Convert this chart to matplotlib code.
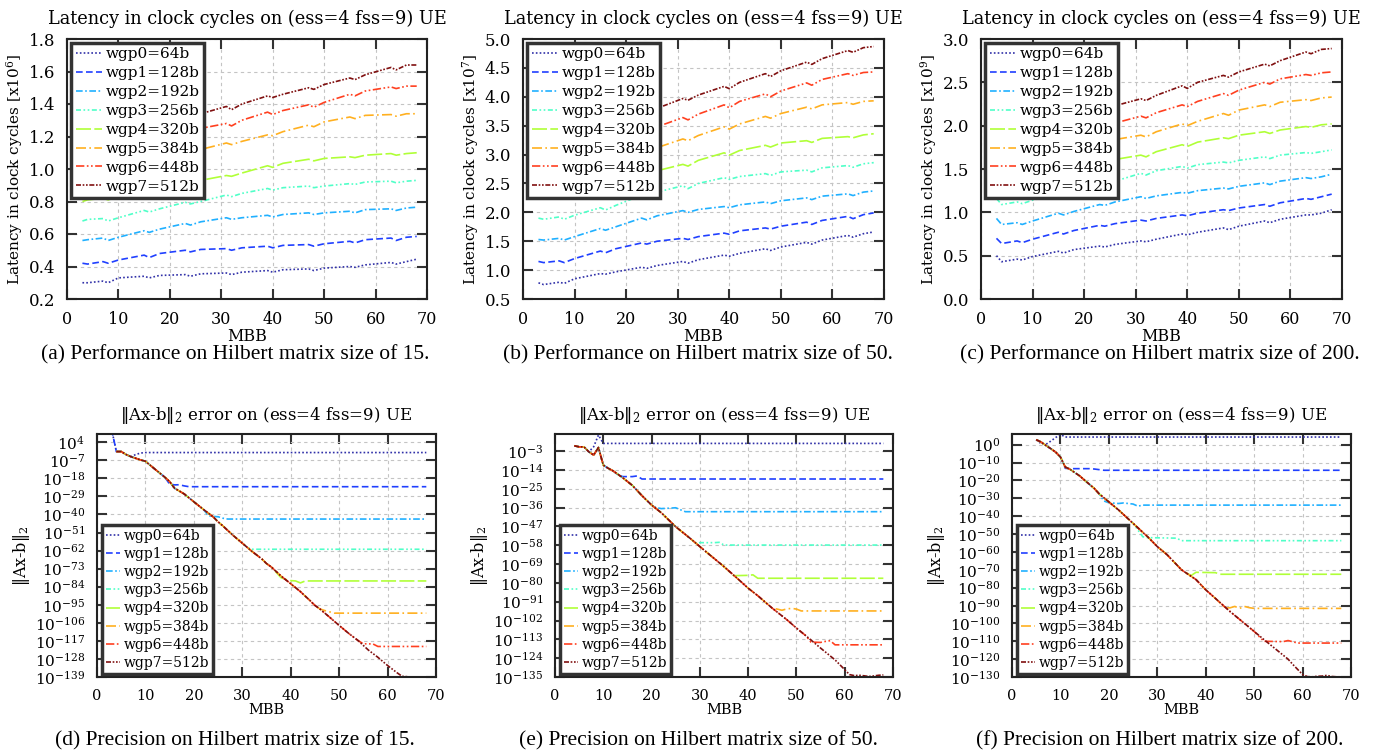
import matplotlib
matplotlib.use('Agg')
import matplotlib.pyplot as plt
import numpy as np
from matplotlib.ticker import FixedLocator, FuncFormatter

plt.rcParams['font.family'] = ['DejaVu Serif']
plt.rcParams['mathtext.fontset'] = 'dejavuserif'

W, H = 1374, 754

labels = ['wgp0=64b', 'wgp1=128b', 'wgp2=192b', 'wgp3=256b',
          'wgp4=320b', 'wgp5=384b', 'wgp6=448b', 'wgp7=512b']
colors = ['#3030a8', '#2040ff', '#20b0ff', '#50ffc8',
          '#b0ff38', '#ffb020', '#ff4020', '#801010']
styles = [(0, (1, 1.3)), (0, (4, 2)), (0, (4, 1.5, 1, 1.5)), (0, (3, 1.5, 1, 1.5, 1, 1.5)),
          (0, (9, 2)), (0, (6, 2, 1, 2)), (0, (5, 1.5, 1, 1.5, 1, 1.5)), (0, (3, 1, 1, 1, 1, 1))]

# ---- latency data (MBB sample points) ----
lat_mbb = [3, 4, 7, 8, 10, 15, 16, 18, 23, 24, 26, 31, 32, 34, 39, 40, 42, 47, 48, 50,
           55, 56, 58, 63, 64, 66, 68]

lat15 = [  # x1e6
    [0.30, 0.30, 0.31, 0.30, 0.33, 0.34, 0.33, 0.345, 0.35, 0.34, 0.355, 0.36, 0.35, 0.365, 0.375, 0.365, 0.38, 0.385, 0.375, 0.39, 0.40, 0.395, 0.41, 0.425, 0.415, 0.43, 0.445],
    [0.42, 0.415, 0.43, 0.42, 0.44, 0.47, 0.455, 0.48, 0.50, 0.49, 0.505, 0.51, 0.50, 0.515, 0.525, 0.515, 0.53, 0.535, 0.525, 0.54, 0.555, 0.545, 0.565, 0.575, 0.56, 0.58, 0.585],
    [0.56, 0.565, 0.575, 0.56, 0.58, 0.62, 0.61, 0.63, 0.665, 0.655, 0.675, 0.70, 0.69, 0.70, 0.715, 0.705, 0.72, 0.73, 0.72, 0.73, 0.74, 0.73, 0.75, 0.755, 0.745, 0.76, 0.765],
    [0.68, 0.69, 0.695, 0.68, 0.70, 0.745, 0.735, 0.755, 0.795, 0.785, 0.80, 0.84, 0.83, 0.85, 0.88, 0.87, 0.885, 0.895, 0.885, 0.895, 0.91, 0.905, 0.92, 0.925, 0.915, 0.925, 0.93],
    [0.80, 0.81, 0.82, 0.81, 0.83, 0.87, 0.86, 0.88, 0.92, 0.91, 0.93, 0.96, 0.955, 0.975, 1.02, 1.01, 1.035, 1.06, 1.05, 1.065, 1.075, 1.07, 1.085, 1.095, 1.085, 1.095, 1.10],
    [0.96, 0.97, 0.99, 0.98, 1.00, 1.04, 1.03, 1.05, 1.10, 1.09, 1.12, 1.16, 1.15, 1.17, 1.21, 1.205, 1.23, 1.27, 1.26, 1.29, 1.32, 1.31, 1.33, 1.335, 1.325, 1.34, 1.34],
    [1.08, 1.09, 1.11, 1.10, 1.12, 1.17, 1.16, 1.18, 1.22, 1.21, 1.25, 1.28, 1.265, 1.30, 1.35, 1.335, 1.36, 1.395, 1.38, 1.41, 1.46, 1.45, 1.48, 1.505, 1.495, 1.51, 1.51],
    [1.18, 1.19, 1.21, 1.20, 1.22, 1.27, 1.26, 1.28, 1.33, 1.32, 1.34, 1.385, 1.365, 1.40, 1.45, 1.44, 1.46, 1.50, 1.49, 1.52, 1.56, 1.55, 1.58, 1.625, 1.61, 1.64, 1.64],
]
lat50 = [  # x1e7
    [0.78, 0.75, 0.79, 0.77, 0.85, 0.94, 0.93, 0.97, 1.05, 1.03, 1.08, 1.15, 1.12, 1.18, 1.26, 1.24, 1.29, 1.37, 1.34, 1.40, 1.48, 1.45, 1.52, 1.60, 1.57, 1.63, 1.66],
    [1.15, 1.13, 1.16, 1.13, 1.20, 1.33, 1.30, 1.37, 1.47, 1.45, 1.50, 1.55, 1.53, 1.58, 1.64, 1.62, 1.68, 1.73, 1.71, 1.76, 1.83, 1.79, 1.86, 1.93, 1.89, 1.96, 1.99],
    [1.53, 1.52, 1.55, 1.52, 1.58, 1.72, 1.69, 1.75, 1.90, 1.87, 1.94, 2.03, 2.00, 2.05, 2.10, 2.08, 2.13, 2.18, 2.15, 2.20, 2.25, 2.22, 2.28, 2.32, 2.29, 2.35, 2.37],
    [1.90, 1.88, 1.92, 1.88, 1.95, 2.08, 2.04, 2.12, 2.30, 2.26, 2.35, 2.46, 2.41, 2.50, 2.60, 2.57, 2.62, 2.67, 2.64, 2.70, 2.73, 2.70, 2.77, 2.81, 2.78, 2.84, 2.86],
    [2.25, 2.24, 2.28, 2.25, 2.33, 2.47, 2.43, 2.51, 2.65, 2.62, 2.72, 2.83, 2.80, 2.90, 3.03, 2.99, 3.07, 3.16, 3.13, 3.20, 3.24, 3.21, 3.28, 3.31, 3.29, 3.34, 3.36],
    [2.63, 2.62, 2.68, 2.64, 2.73, 2.88, 2.85, 2.93, 3.06, 3.03, 3.12, 3.27, 3.24, 3.33, 3.48, 3.44, 3.53, 3.66, 3.63, 3.71, 3.82, 3.79, 3.86, 3.90, 3.87, 3.92, 3.93],
    [2.98, 2.96, 3.02, 3.00, 3.08, 3.22, 3.18, 3.26, 3.42, 3.38, 3.48, 3.64, 3.60, 3.70, 3.86, 3.81, 3.92, 4.05, 4.00, 4.10, 4.24, 4.20, 4.30, 4.40, 4.37, 4.42, 4.43],
    [3.28, 3.27, 3.32, 3.30, 3.38, 3.52, 3.48, 3.55, 3.72, 3.68, 3.80, 3.97, 3.94, 4.03, 4.18, 4.14, 4.25, 4.40, 4.35, 4.45, 4.60, 4.56, 4.66, 4.80, 4.77, 4.85, 4.87],
]
lat200 = [  # x1e9
    [0.50, 0.43, 0.46, 0.45, 0.49, 0.55, 0.53, 0.57, 0.61, 0.60, 0.63, 0.67, 0.66, 0.69, 0.75, 0.74, 0.77, 0.82, 0.80, 0.84, 0.90, 0.88, 0.92, 0.97, 0.97, 0.99, 1.03],
    [0.70, 0.64, 0.67, 0.65, 0.69, 0.77, 0.75, 0.79, 0.85, 0.84, 0.87, 0.91, 0.90, 0.93, 0.97, 0.96, 0.99, 1.03, 1.02, 1.05, 1.09, 1.07, 1.11, 1.16, 1.15, 1.18, 1.21],
    [0.93, 0.86, 0.88, 0.86, 0.90, 0.99, 0.97, 1.01, 1.09, 1.08, 1.12, 1.18, 1.16, 1.19, 1.23, 1.22, 1.25, 1.28, 1.27, 1.30, 1.34, 1.32, 1.36, 1.40, 1.39, 1.41, 1.44],
    [1.16, 1.09, 1.12, 1.10, 1.14, 1.22, 1.20, 1.25, 1.33, 1.31, 1.36, 1.45, 1.43, 1.48, 1.53, 1.51, 1.55, 1.58, 1.57, 1.60, 1.64, 1.62, 1.66, 1.69, 1.68, 1.70, 1.72],
    [1.38, 1.32, 1.35, 1.33, 1.38, 1.46, 1.44, 1.49, 1.56, 1.55, 1.61, 1.66, 1.64, 1.70, 1.78, 1.76, 1.81, 1.86, 1.85, 1.89, 1.93, 1.91, 1.95, 1.99, 1.98, 2.01, 2.02],
    [1.62, 1.55, 1.57, 1.55, 1.60, 1.68, 1.67, 1.72, 1.78, 1.78, 1.84, 1.89, 1.87, 1.93, 2.02, 2.00, 2.05, 2.14, 2.12, 2.18, 2.24, 2.22, 2.27, 2.30, 2.29, 2.32, 2.33],
    [1.80, 1.74, 1.76, 1.74, 1.80, 1.88, 1.86, 1.92, 1.98, 1.97, 2.03, 2.11, 2.09, 2.15, 2.24, 2.22, 2.28, 2.37, 2.35, 2.41, 2.50, 2.48, 2.54, 2.59, 2.58, 2.61, 2.62],
    [2.00, 1.94, 1.97, 1.95, 2.00, 2.08, 2.05, 2.11, 2.19, 2.18, 2.23, 2.31, 2.29, 2.35, 2.46, 2.43, 2.50, 2.58, 2.56, 2.62, 2.71, 2.69, 2.75, 2.85, 2.83, 2.88, 2.89],
]

# ---- precision data: log10 of ||Ax-b||_2 ----
# shared (converging) curve, then each word size leaves it at a break MBB
d_main_x = [4, 5, 6, 7, 8, 9, 10, 12, 14, 15, 16, 18, 20, 22, 24, 25, 26, 28, 30, 32, 34, 35, 36, 38, 40,
            42, 44, 45, 46, 48, 50, 52, 54, 55, 56, 58, 60, 62, 63, 64, 65, 66, 67, 68]
d_main_y = [-1.7, -1.7, -3.5, -4.8, -5.8, -6.8, -7.6, -12.5, -17.3, -20, -24, -27.5, -32.3, -37, -41.5, -44.5,
            -47, -52.5, -57.5, -62.5, -67, -69.9, -72, -77.5, -82.2, -87, -92.5, -95.4, -97.5, -102.5, -107.6,
            -112.5, -117, -119.8, -122.5, -127, -132, -136.5, -138.6, -138.8, -139.4, -138.9, -139.3, -139.6]
d_break = [8, 15, 23, 31, 38, 46, 55, 99]
d_tail_x = [[8, 9, 10, 68], [15, 16, 17, 18, 19, 68], [23, 24, 25, 26, 27, 68], [31, 32, 68],
            [38, 39, 40, 41, 42, 43, 68], [46, 47, 48, 49, 68], [55, 56, 57, 58, 68], []]
d_tail_y = [[-3.5, -2.6, -2.3, -2.3], [-21.5, -22.0, -21.9, -22.6, -23.1, -23.1],
            [-40.8, -41.2, -41.4, -42.3, -42.8, -42.8], [-60.0, -61.2, -61.2],
            [-78.5, -79.6, -80.3, -80.5, -81.7, -80.5, -80.5], [-97.5, -98.5, -99.3, -100.1, -100.1],
            [-118.8, -118.8, -118.9, -120.4, -120.4], []]
d_head = [12, 12, None, None, None, None, None, None]  # value at MBB=3 (off scale)

e_main_x = [4, 5, 6, 7, 8, 9, 10, 11, 12, 14, 16, 18, 20, 22, 25, 28, 30, 32, 35, 38, 40, 42, 45, 48, 50,
            52, 55, 58, 60, 61, 62, 63, 64, 65, 66, 67, 68]
e_main_y = [0.1, -0.5, -0.5, -3.4, -5.3, -0.9, -11.2, -13, -14.5, -18.5, -23, -29, -34.5, -39, -47.2, -54,
            -58.8, -63.5, -70.5, -78, -83.1, -87.5, -94.8, -101.5, -106.4, -111, -118.1, -125, -130.7,
            -133.6, -134.2, -134.0, -134.3, -134.7, -134.4, -134.0, -133.8]
e_break = [8, 13, 21, 29, 37, 45, 53, 99]
e_tail_x = [[8, 9, 10, 68], [13, 14, 16, 17, 18, 68], [21, 22, 24, 25, 26, 27, 68], [29, 33, 34, 35, 68],
            [37, 40, 41, 42, 68], [45, 46, 47, 48, 49, 50, 51, 68], [53, 55, 56, 57, 58, 68], []]
e_tail_y = [[-0.5, 6.4, 1.5, 1.5], [-16.8, -17.9, -17.9, -17.5, -19.3, -19.3],
            [-36.0, -36.6, -36.3, -36.1, -37.3, -38.4, -38.4], [-56.5, -56.5, -56.3, -57.9, -57.9],
            [-75.8, -75.6, -75.3, -77.3, -77.3], [-94.8, -95.3, -96.0, -95.2, -94.9, -95.3, -96.4, -96.4],
            [-114.6, -114.8, -114.2, -113.8, -116.2, -116.2], []]
e_head = [None] * 8

f_main_x = [5, 6, 7, 8, 9, 10, 11, 12, 14, 15, 17, 18, 20, 22, 25, 28, 30, 32, 35, 38, 40, 42, 45, 48, 50,
            52, 55, 57, 58, 60, 61, 62, 63, 64, 65, 66, 67, 68]
f_main_y = [2.8, 1.5, -0.4, -2.2, -4.1, -6.9, -12.5, -13.8, -17.5, -19.9, -24.5, -27.5, -32, -36.5, -44,
            -51.5, -57, -61.5, -70, -75.5, -81.2, -86, -93.3, -100, -104.5, -109, -115.6, -120, -123,
            -128.6, -129.8, -129.9, -129.6, -129.5, -129.1, -129.7, -129.9, -129.9]
f_break = [6, 11, 19, 27, 36, 44, 52, 99]
f_tail_x = [[6, 7, 8, 9, 10, 11, 68], [11, 12, 16, 17, 19, 68], [19, 20, 22, 23, 25, 26, 27, 68],
            [27, 28, 34, 35, 68], [36, 37, 38, 42, 43, 68], [44, 45, 46, 47, 48, 49, 50, 68],
            [52, 56, 57, 59, 68], []]
f_tail_y = [[0.6, 0.2, 2.0, 4.0, 5.8, 4.3, 4.3], [-13.2, -13.4, -13.4, -13.6, -14.3, -14.3],
            [-31.5, -32.5, -32.9, -32.6, -33.2, -34.4, -33.8, -33.8], [-51.5, -52.0, -52.3, -53.7, -53.7],
            [-71.8, -73.2, -71.4, -71.6, -72.5, -72.5], [-91.2, -91.3, -90.5, -91.6, -90.5, -91.2, -91.6, -91.6],
            [-110.0, -110.2, -109.6, -111.0, -111.0], []]
f_head = [None] * 8

captions = ['(a) Performance on Hilbert matrix size of 15.',
            '(b) Performance on Hilbert matrix size of 50.',
            '(c) Performance on Hilbert matrix size of 200.',
            '(d) Precision on Hilbert matrix size of 15.',
            '(e) Precision on Hilbert matrix size of 50.',
            '(f) Precision on Hilbert matrix size of 200.']

fig = plt.figure(figsize=(W / 100, H / 100), dpi=100)


def box(x0, y0, x1, y1):
    return [x0 / W, 1 - y1 / H, (x1 - x0) / W, (y1 - y0) / H]


def style_axes(ax, xsize, ysize):
    for s in ax.spines.values():
        s.set_color('#222222')
        s.set_linewidth(1.5)
    ax.tick_params(direction='in', length=7, width=1.5, color='#333333',
                   top=True, right=True, pad=8.5)
    ax.tick_params(axis='x', labelsize=xsize)
    ax.tick_params(axis='y', labelsize=ysize)
    ax.grid(True, color='#c4c4c4', linestyle=(0, (3, 3)), linewidth=0.8)
    ax.set_xlim(0, 70)
    ax.set_xticks(range(0, 71, 10))
    ax.set_xlabel('MBB', fontsize=xsize, labelpad=0)


def legend(ax, loc, anchor, size, hl, spacing):
    lg = ax.legend(loc=loc, bbox_to_anchor=anchor, fontsize=size, handlelength=hl,
                   handletextpad=0.25, labelspacing=spacing, borderpad=0.3, borderaxespad=0,
                   fancybox=False, framealpha=1, edgecolor='#333333')
    lg.get_frame().set_linewidth(2.5)


lat_sets = [(lat15, 0.2, 1.8, 0.2, 6), (lat50, 0.5, 5.0, 0.5, 7), (lat200, 0.0, 3.0, 0.5, 9)]
top_boxes = [(67, 39, 427, 299), (523, 39, 884, 299), (981, 39, 1342, 299)]
for (data, lo, hi, step, ex), b in zip(lat_sets, top_boxes):
    ax = fig.add_axes(box(*b))
    for i in range(8):
        ax.plot(lat_mbb, data[i], color=colors[i], linestyle=styles[i], lw=1.2, label=labels[i])
    style_axes(ax, 11.5, 12)
    ax.set_ylim(lo, hi)
    ax.set_yticks(np.arange(lo, hi + 1e-9, step))
    ax.yaxis.set_major_formatter(FuncFormatter(lambda v, p: '%.1f' % v))
    ax.set_ylabel('Latency in clock cycles [x10$^{%d}$]' % ex, fontsize=11, labelpad=3)
    ax.set_title('Latency in clock cycles on (ess=4 fss=9) UE', fontsize=12.8, pad=11)
    legend(ax, 'upper left', (0.012, 0.985), 11, 1.7, 0.32)

prec_sets = [
    (d_main_x, d_main_y, d_break, d_tail_x, d_tail_y, d_head, 4, -139, 11, -139, 9),
    (e_main_x, e_main_y, e_break, e_tail_x, e_tail_y, e_head, -3, -135, 11, -135, 7),
    (f_main_x, f_main_y, f_break, f_tail_x, f_tail_y, f_head, 0, -130, 10, -130, 6),
]
bot_boxes = [(97, 434, 436, 677), (555, 434, 893, 677), (1012, 434, 1351, 677)]
for (mx, my, brk, tx, ty, head, t0, t1, tstep, ylo, yhi), b in zip(prec_sets, bot_boxes):
    ax = fig.add_axes(box(*b))
    for i in range(8):
        xs = [x for x in mx if x < brk[i]] + tx[i]
        ys = [y for x, y in zip(mx, my) if x < brk[i]] + ty[i]
        if head[i] is not None:
            xs = [3] + xs
            ys = [head[i]] + ys
        ax.plot(xs, 10.0 ** np.array(ys), color=colors[i], linestyle=styles[i], lw=1.2, label=labels[i])
    ax.set_yscale('log')
    style_axes(ax, 10.5, 11)
    ax.set_ylim(10.0 ** ylo, 10.0 ** yhi)
    exps = np.arange(t0, t1 - 1, -tstep)
    ax.yaxis.set_major_locator(FixedLocator(10.0 ** exps))
    ax.yaxis.set_minor_locator(FixedLocator([]))
    ax.yaxis.set_major_formatter(FuncFormatter(lambda v, p: r'$10^{%d}$' % round(np.log10(v))))
    ax.set_ylabel(r'$\|$Ax-b$\|_2$', fontsize=11.5, labelpad=2)
    ax.set_title(r'$\|$Ax-b$\|_2$ error on (ess=4 fss=9) UE', fontsize=12, pad=10)
    legend(ax, 'lower left', (0.015, 0.012), 10, 1.0, 0.3)

cap_x = [235, 698, 1160]
for k, c in enumerate(captions):
    fig.text(cap_x[k % 3] / W, 1 - (355 if k < 3 else 741) / H, c,
             ha='center', va='center', fontsize=15.5, family='Liberation Serif')

fig.savefig('out.png', dpi=100)
